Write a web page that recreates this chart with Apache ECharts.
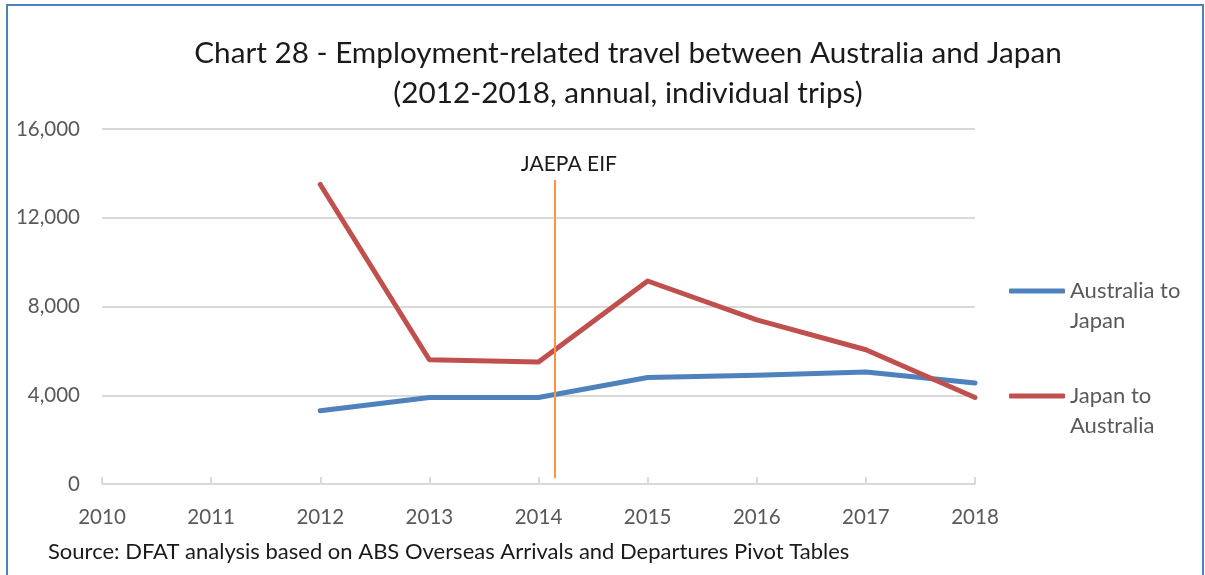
<!DOCTYPE html>
<html>
<head>
<meta charset="utf-8">
<script src="https://cdn.jsdelivr.net/npm/echarts@6/dist/echarts.min.js"></script>
<style>
  html, body { margin: 0; padding: 0; background: #fff; }
  #chart { width: 1205px; height: 575px; }
</style>
</head>
<body>
<div id="chart"></div>
<script>
// Years on the horizontal axis
const years = [2010, 2011, 2012, 2013, 2014, 2015, 2016, 2017, 2018];
// Employment-related trips per year (no data before 2012)
const australiaToJapan = [null, null, 3300, 3900, 3900, 4800, 4900, 5050, 4550];
const japanToAustralia = [null, null, 13500, 5600, 5500, 9150, 7400, 6050, 3900];
// Series names shown in the legend
const seriesNames = ['Australia to\nJapan', 'Japan to\nAustralia'];
// JAEPA entry-into-force marker: x position (year) and vertical extent
const eifYear = [2014.15];
const eifRange = [270, 13700];
// Value-axis ticks
const yTicks = [0, 4000, 8000, 12000, 16000];

const FONT = 'Lato, "Open Sans", sans-serif';

function pairs(values) {
  return years.map((y, i) => [y, values[i]]);
}

const chart = echarts.init(document.getElementById('chart'), null, { renderer: 'canvas' });

chart.setOption({
  animation: false,
  backgroundColor: '#ffffff',
  title: {
    text: 'Chart 28 - Employment-related travel between Australia and Japan\n(2012-2018, annual, individual trips)',
    left: 623,
    top: 28,
    textAlign: 'center',
    textStyle: {
      fontFamily: FONT,
      fontSize: 29.7,
      fontWeight: 'normal',
      lineHeight: 40,
      color: '#1a1a1a'
    }
  },
  legend: {
    data: seriesNames,
    orient: 'vertical',
    left: 1004,
    top: 241,
    itemWidth: 56,
    itemHeight: 5,
    itemGap: 15,
    icon: 'roundRect',
    // a leading blank line keeps the first text line level with the swatch
    formatter: name => '\n' + name,
    textStyle: {
      fontFamily: FONT,
      fontSize: 22,
      lineHeight: 30,
      color: '#595959'
    }
  },
  grid: { left: 102, right: 230, top: 129, bottom: 91, containLabel: false },
  xAxis: {
    type: 'value',
    min: years[0],
    max: years[years.length - 1],
    interval: 1,
    axisLine: { show: true, lineStyle: { color: '#d9d9d9', width: 2 } },
    axisTick: { show: true, inside: true, length: 7, lineStyle: { color: '#d9d9d9', width: 2 } },
    axisLabel: {
      margin: 23,
      fontFamily: FONT,
      fontSize: 20.5,
      color: '#595959',
      formatter: v => String(v)
    },
    splitLine: { show: false }
  },
  yAxis: {
    type: 'value',
    min: yTicks[0],
    max: yTicks[yTicks.length - 1],
    interval: yTicks[1] - yTicks[0],
    axisLine: { show: false },
    axisTick: { show: false },
    axisLabel: {
      margin: 22,
      fontFamily: FONT,
      fontSize: 20.5,
      color: '#595959'
    },
    splitLine: { show: true, lineStyle: { color: '#d9d9d9', width: 2 } }
  },
  series: [
    {
      name: seriesNames[0],
      type: 'line',
      data: pairs(australiaToJapan),
      showSymbol: false,
      symbol: 'none',
      color: '#4f81bd',
      lineStyle: { width: 5, color: '#4f81bd', cap: 'round', join: 'round' },
      z: 3
    },
    {
      name: seriesNames[1],
      type: 'line',
      data: pairs(japanToAustralia),
      showSymbol: false,
      symbol: 'none',
      color: '#c0504d',
      lineStyle: { width: 5, color: '#c0504d', cap: 'round', join: 'round' },
      z: 4
    },
    {
      name: 'JAEPA EIF',
      type: 'line',
      data: [],
      z: 5,
      markLine: {
        silent: true,
        symbol: ['none', 'none'],
        lineStyle: { color: '#f79646', width: 2, type: 'solid' },
        label: {
          show: true,
          position: 'end',
          formatter: 'JAEPA EIF',
          fontFamily: FONT,
          fontSize: 21,
          color: '#1a1a1a',
          padding: [0, 0, 0, 28]
        },
        data: [[
          { coord: [eifYear[0], eifRange[0]] },
          { coord: [eifYear[0], eifRange[1]] }
        ]]
      }
    }
  ],
  graphic: [
    {
      type: 'text',
      left: 48,
      top: 541,
      style: {
        text: 'Source: DFAT analysis based on ABS Overseas Arrivals and Departures Pivot Tables',
        font: '22px ' + FONT,
        fill: '#1a1a1a'
      }
    },
    {
      type: 'polyline',
      shape: { points: [[7, 580], [7, 5], [1203, 5], [1203, 580]] },
      style: { stroke: '#4f81bd', lineWidth: 2, fill: null }
    }
  ]
});
</script>
</body>
</html>
